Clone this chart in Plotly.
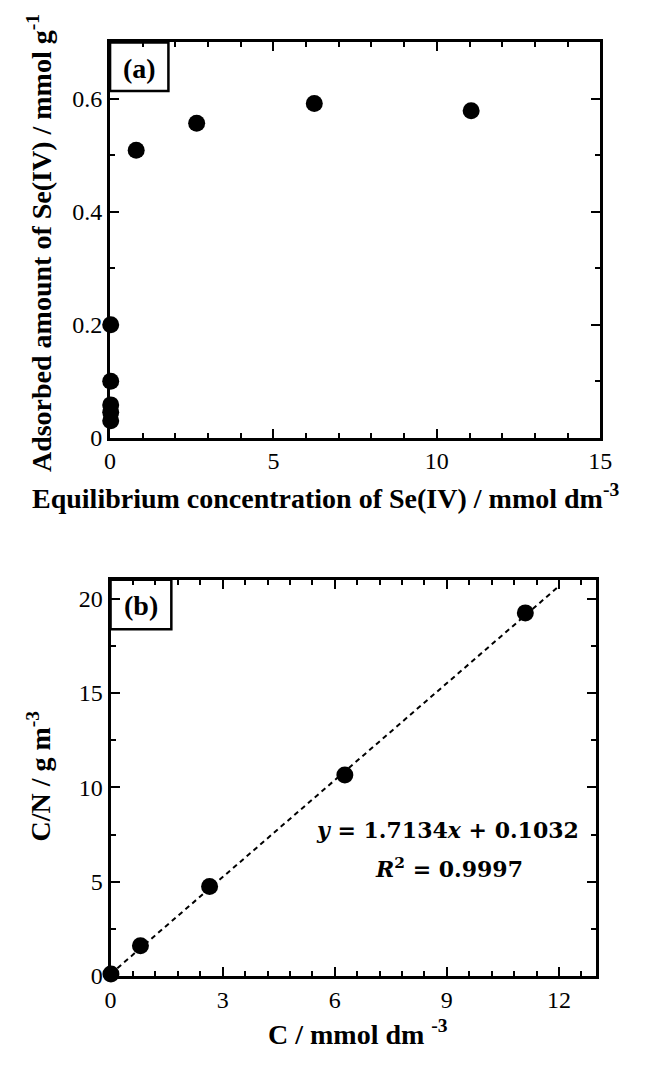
import plotly.graph_objects as go

# (a) adsorption isotherm of Se(IV)
eq_conc = [0.02, 0.02, 0.02, 0.02, 0.02, 0.8, 2.65, 6.25, 11.05]
adsorbed = [0.03, 0.045, 0.058, 0.1, 0.2, 0.509, 0.557, 0.592, 0.579]

# (b) Langmuir linear plot
c_vals = [0.01, 0.8, 2.65, 6.27, 11.1]
cn_vals = [0.1, 1.6, 4.75, 10.65, 19.25]
slope, intercept = 1.7134, 0.1032
fit_x = [0.0, 12.0]
fit_y = [slope * x + intercept for x in fit_x]

SERIF = "Liberation Serif"
W, H = 656, 1070

fig = go.Figure()
fig.add_trace(go.Scatter(x=eq_conc, y=adsorbed, mode="markers",
                         marker=dict(size=17, color="black"),
                         xaxis="x", yaxis="y", cliponaxis=False))
fig.add_trace(go.Scatter(x=fit_x, y=fit_y, mode="lines",
                         line=dict(color="black", width=2, dash="5px,4px"),
                         xaxis="x2", yaxis="y2"))
fig.add_trace(go.Scatter(x=c_vals, y=cn_vals, mode="markers",
                         marker=dict(size=17, color="black"),
                         xaxis="x2", yaxis="y2", cliponaxis=False))

def px_x(p):
    return p / W

def px_y(p):
    return 1 - p / H

axis_common = dict(
    showline=True, linewidth=3, linecolor="black", mirror="allticks",
    ticks="inside", ticklen=9, tickwidth=2, tickcolor="black",
    showgrid=False, zeroline=False,
    tickfont=dict(family=SERIF, size=24, color="black"),
)
minor_common = dict(ticks="inside", ticklen=5, tickwidth=2, tickcolor="black")

fig.update_layout(
    width=W, height=H,
    margin=dict(l=0, r=0, t=0, b=0),
    plot_bgcolor="white", paper_bgcolor="white",
    showlegend=False,
    xaxis=dict(domain=[px_x(107), px_x(611)], range=[0, 15],
               tickvals=[0, 5, 10, 15], anchor="y",
               minor=dict(dtick=1, **minor_common), **axis_common),
    yaxis=dict(domain=[px_y(443), px_y(43)], range=[0, 0.7],
               tickvals=[0, 0.2, 0.4, 0.6], ticktext=["0", "0.2", "0.4", "0.6"],
               anchor="x", minor=dict(dtick=0.1, **minor_common), **axis_common),
    xaxis2=dict(domain=[px_x(107.5), px_x(607)], range=[0, 13],
                tickvals=[0, 3, 6, 9, 12], anchor="y2",
                minor=dict(dtick=0.6, **minor_common), **axis_common),
    yaxis2=dict(domain=[px_y(988), px_y(587)], range=[0, 21],
                tickvals=[0, 5, 10, 15, 20], anchor="x2",
                minor=dict(dtick=2.5, **minor_common), **axis_common),
)

title_font = dict(family=SERIF, size=28, color="black")
label_font = dict(family=SERIF, size=28, color="black")
eq_font = dict(family="DejaVu Serif", size=22, color="black")

annotations = [
    dict(text="<b>Equilibrium concentration of Se(IV) / mmol dm<sup>-3</sup></b>",
         x=px_x(328), y=px_y(503), xref="paper", yref="paper",
         showarrow=False, font=title_font, xanchor="center", yanchor="middle"),
    dict(text="<b>Adsorbed amount of Se(IV) / mmol g<sup>-1</sup></b>",
         x=px_x(34), y=px_y(246), xref="paper", yref="paper", textangle=-90,
         showarrow=False, font=title_font, xanchor="center", yanchor="middle"),
    dict(text="<b>C / mmol dm <sup>-3</sup></b>",
         x=px_x(362), y=px_y(1045), xref="paper", yref="paper",
         showarrow=False, font=title_font, xanchor="center", yanchor="middle"),
    dict(text="<b>C/N / g m<sup>-3</sup></b>",
         x=px_x(34), y=px_y(786), xref="paper", yref="paper", textangle=-90,
         showarrow=False, font=title_font, xanchor="center", yanchor="middle"),
    dict(text="<b>(a)</b>", x=0.06, y=0.935, xref="x domain", yref="y domain",
         showarrow=False, font=label_font, xanchor="center", yanchor="middle"),
    dict(text="<b>(b)</b>", x=0.063, y=0.935, xref="x2 domain", yref="y2 domain",
         showarrow=False, font=label_font, xanchor="center", yanchor="middle"),
    dict(text="<b><i>y</i> = 1.7134<i>x</i> + 0.1032</b>",
         x=px_x(454), y=px_y(840), xref="paper", yref="paper",
         showarrow=False, font=eq_font, xanchor="center", yanchor="middle"),
    dict(text="<b><i>R</i><sup>2</sup> = 0.9997</b>",
         x=px_x(455), y=px_y(879), xref="paper", yref="paper",
         showarrow=False, font=eq_font, xanchor="center", yanchor="middle"),
]
fig.update_layout(annotations=annotations)

fig.add_shape(type="rect", xref="x domain", yref="y domain",
              x0=0, x1=(167 - 107) / 504, y0=1 - (92 - 43) / 400, y1=1,
              line=dict(color="black", width=2.5))
fig.add_shape(type="rect", xref="x2 domain", yref="y2 domain",
              x0=0, x1=(170 - 107.5) / 499.5, y0=1 - (637 - 587) / 401, y1=1,
              line=dict(color="black", width=2.5))

fig.write_html("out.html")
